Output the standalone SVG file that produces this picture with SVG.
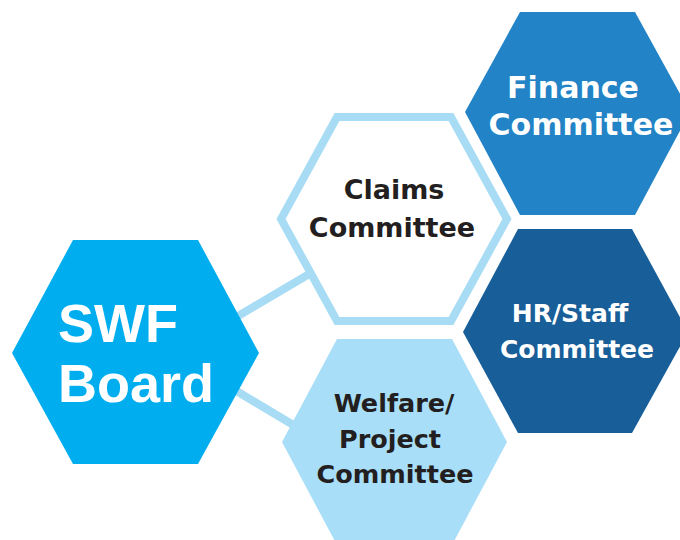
<svg xmlns="http://www.w3.org/2000/svg" width="680" height="540" viewBox="0 0 680 540">
  <style>
    .link { stroke: #a8dcf5; stroke-width: 8; fill: none; }
    .lbl { font-family: "DejaVu Sans", "Liberation Sans", sans-serif; font-weight: bold; text-anchor: middle; }
    .dark { fill: #231f20; }
    .light { fill: #ffffff; }
  </style>
  <rect width="680" height="540" fill="#ffffff"/>

  <!-- connectors from the board to its two linked committees -->
  <g id="connectors">
    <line class="link" x1="228" y1="322" x2="316" y2="270"/>
    <line class="link" x1="228" y1="386" x2="300" y2="429"/>
  </g>

  <g id="swf-board">
    <polygon points="73,240 198,240 259,353 198,464 73,464 12,353" fill="#00aeef"/>
    <text x="58" y="342" font-family="Liberation Sans, Arial, sans-serif" font-weight="bold" font-size="54" fill="#ffffff">SWF</text>
    <text x="58" y="402" font-family="Liberation Sans, Arial, sans-serif" font-weight="bold" font-size="54" fill="#ffffff">Board</text>
  </g>

  <g id="claims-committee">
    <polygon points="337,117 451,117 507,219 451,321 337,321 281,219" fill="#ffffff" stroke="#a8dcf5" stroke-width="8" stroke-linejoin="miter"/>
    <text class="lbl dark" x="394" y="199" font-size="27">Claims</text>
    <text class="lbl dark" x="392" y="237" font-size="27">Committee</text>
  </g>

  <g id="welfare-project-committee">
    <polygon points="337,339 452,339 507,442 452,545 337,545 282,442" fill="#a8def7"/>
    <text class="lbl dark" x="394" y="412" font-size="25.5">Welfare/</text>
    <text class="lbl dark" x="390" y="448" font-size="25.5">Project</text>
    <text class="lbl dark" x="395" y="483" font-size="25.5">Committee</text>
  </g>

  <g id="finance-committee">
    <polygon points="520,12 635,12 690,112 635,215 520,215 465,112" fill="#2283c6"/>
    <text class="lbl light" x="573" y="98" font-size="30">Finance</text>
    <text class="lbl light" x="581" y="135" font-size="30">Committee</text>
  </g>

  <g id="hr-staff-committee">
    <polygon points="518,229 632,229 688,332 632,433 518,433 463,332" fill="#185e98"/>
    <text class="lbl light" x="570" y="322" font-size="25">HR/Staff</text>
    <text class="lbl light" x="577" y="358" font-size="25">Committee</text>
  </g>
</svg>
